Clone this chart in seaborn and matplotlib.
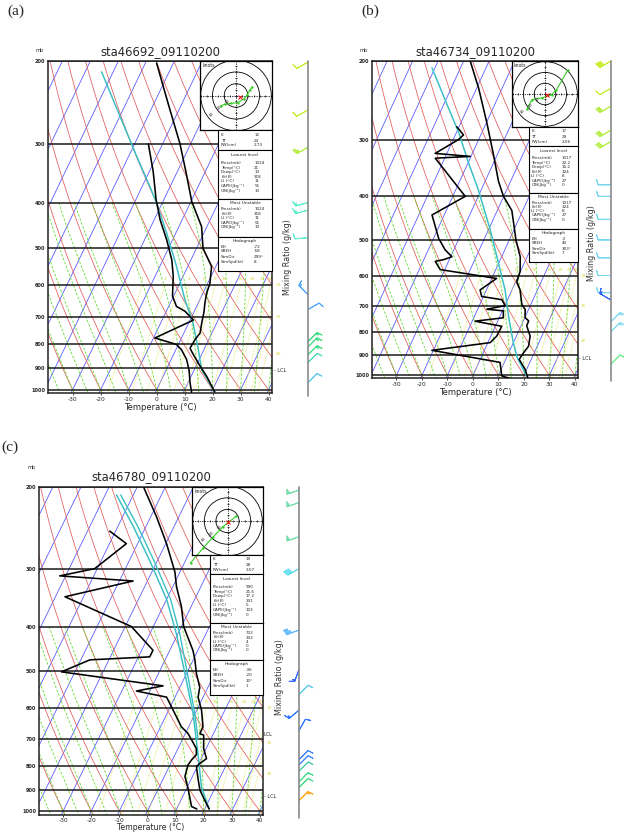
import numpy as np
import matplotlib
matplotlib.use("Agg")
import matplotlib.pyplot as plt
import seaborn as sns
from matplotlib.patches import Circle
from matplotlib.ticker import FixedLocator, FixedFormatter, NullLocator
from matplotlib.transforms import blended_transform_factory

# ------------------------------------------------------------------ data
# panel (a)
A_STATION = "sta46692_09110200"
A_TEMP_P = [202, 246, 300, 346, 398, 450, 500, 547, 594, 623, 652, 684, 719, 758, 783, 816, 842, 891, 938, 1012]
A_TEMP_T = [-56.0, -45.0, -33.8, -26.6, -19.7, -11.9, -7.7, -1.5, 0.8, 1.3, 2.3, 3.6, 4.6, 5.8, 5.1, 4.8, 7.1, 11.5, 15.7, 21.2]
A_DEWP_P = [300, 343, 394, 435, 480, 530, 574, 632, 665, 681, 711, 776, 801, 822, 862, 908, 968, 1012]
A_DEWP_T = [-45.1, -38.7, -32.8, -27.9, -22.1, -16.8, -13.5, -10.4, -7.2, -3.3, 1.2, -9.5, -0.7, 2.0, 5.5, 8.2, 10.8, 12.9]
A_PARCEL_P = [211, 262, 319, 370, 401, 465, 547, 644, 719, 823, 906, 1012]
A_PARCEL_T = [-74.1, -60.0, -47.1, -37.2, -32.0, -23.2, -14.0, -5.3, 1.4, 8.1, 12.6, 21.2]
A_HODO_U = [13.9, 11.9, 9.7, 6.9, 1.4, -4.2, -9.7, -13.1]
A_HODO_V = [7.2, 5.0, 0.8, -2.8, -6.1, -6.7, -7.5, -8.9]
A_STORM_UV = [3.6, -1.1]
A_BARB_P = [201, 254, 305, 400, 415, 475, 628, 675, 790, 811, 843, 875, 966]
A_BARB_SPD = [10, 10, 25, 15, 15, 10, 15, 10, 15, 15, 15, 10, 10]
A_BARB_DIR = [240, 240, 240, 255, 255, 265, 315, 60, 45, 45, 45, 45, 45]
A_BARB_COL = ["#c8ee30", "#c8ee30", "#b8ee48", "#60eed0", "#60eed0", "#60eed0",
              "#55aaff", "#55aaff", "#44dd88", "#44dd88", "#44dd88", "#55ddbb", "#66ccee"]
A_INDEX_VALUES = ["12", "24", "2.73"]
A_LOWEST_VALUES = ["1024", "21", "13", "318", "11", "51", "13"]
A_MU_VALUES = ["1024", "318", "11", "51", "13"]
A_HODO_VALUES = ["-72", "-58", "299°", "8"]

# panel (b)
B_STATION = "sta46734_09110200"
B_TEMP_P = [200, 230, 275, 325, 370, 400, 430, 466, 500, 545, 588, 619, 646, 696, 714, 744, 757, 776, 818, 862, 891, 922, 970, 1017]
B_TEMP_T = [-57.4, -49.2, -39.7, -31.2, -24.8, -20.1, -14.3, -10.6, -7.4, -2.7, -0.1, 0.4, 3.2, 6.5, 8.7, 10.1, 12.1, 12.2, 15.4, 16.6, 15.8, 15.3, 19.4, 22.2]
B_DEWP_P = [280, 292, 299, 321, 326, 329, 400, 440, 496, 526, 545, 553, 558, 582, 609, 646, 668, 679, 700, 713, 719, 745, 758, 778, 818, 846, 880, 936, 1003, 1017]
B_DEWP_T = [-50.9, -46.8, -47.9, -54.6, -40.3, -53.7, -35.1, -44.8, -38.0, -33.4, -29.5, -32.2, -35.2, -31.8, -8.1, -12.5, -10.7, -2.2, 0.1, -6.4, 0.4, 1.6, -8.9, 2.5, 2.3, 0.9, -20.6, 8.3, 11.4, 15.2]
B_PARCEL_P = [207, 244, 289, 337, 387, 474, 562, 646, 738, 850, 915, 1017]
B_PARCEL_T = [-71.2, -60.3, -49.0, -39.8, -31.1, -19.4, -10.2, -2.7, 3.3, 10.2, 14.3, 22.2]
B_HODO_U = [21.2, 10.6, 6.1, -3.0, -12.1, -16.7]
B_HODO_V = [22.1, 3.9, -0.6, -3.6, -5.2, -14.2]
B_STORM_UV = [1.6, -0.6]
B_BARB_P = [200, 230, 252, 285, 302, 377, 400, 450, 500, 548, 600, 655, 680, 760, 800, 944]
B_BARB_SPD = [40, 10, 30, 30, 30, 10, 10, 10, 10, 10, 10, 10, 15, 15, 15, 10]
B_BARB_DIR = [240, 240, 240, 240, 240, 270, 270, 270, 270, 270, 270, 270, 300, 45, 45, 45]
B_BARB_COL = ["#c8ee30", "#c8ee30", "#b8ee48", "#b8ee48", "#b8ee48", "#77d8f0", "#77d8f0", "#77d8f0",
              "#77d8f0", "#77d8f0", "#77d8f0", "#77d8f0", "#3366ff", "#88ddee", "#88ddee", "#66ee88"]
B_INDEX_VALUES = ["17", "29", "2.06"]
B_LOWEST_VALUES = ["1017", "22.2", "15.2", "324", "8", "27", "0"]
B_MU_VALUES = ["1017", "324", "8", "27", "0"]
B_HODO_VALUES = ["-3", "40", "303°", "7"]

# panel (c)
C_STATION = "sta46780_09110200"
C_TEMP_P = [201, 232, 265, 305, 328, 362, 400, 450, 470, 505, 541, 568, 606, 658, 681, 686, 733, 771, 790, 802, 856, 901, 948, 990]
C_TEMP_T = [-57.4, -47.9, -39.7, -31.8, -28.7, -23.5, -19.2, -11.8, -9.6, -6.5, -2.9, -1.8, 1.7, 5.1, 5.2, 6.8, 9.1, 11.9, 10.3, 9.7, 12.6, 15.0, 18.5, 21.6]
C_DEWP_P = [249, 265, 300, 311, 319, 345, 400, 450, 465, 472, 501, 537, 551, 568, 606, 658, 680, 703, 733, 756, 776, 795, 842, 894, 978, 990]
C_DEWP_T = [-62.1, -54.0, -60.9, -72.1, -45.1, -66.6, -37.8, -26.0, -26.0, -46.8, -54.8, -16.2, -24.8, -13.0, -8.4, -2.6, 0.9, 3.4, 6.5, 7.6, 6.8, 6.4, 7.3, 10.5, 14.9, 17.2]
C_PARCEL_P = [208, 243, 288, 350, 414, 505, 615, 756, 889, 990]
C_PARCEL_T = [-66.0, -54.6, -42.8, -29.9, -20.6, -10.6, -0.8, 8.2, 15.1, 21.6]
C_MU_PARCEL_P = [700, 615, 505, 414, 350, 288, 243, 208]
C_MU_PARCEL_T = [5.5, -0.2, -9.7, -19.4, -28.5, -41.3, -53.0, -64.5]
C_HODO_U = [7.6, -4.2, -12.7, -21.1, -31.8]
C_HODO_V = [4.2, -5.1, -14.1, -23.4, -36.1]
C_STORM_UV = [0.0, -0.5]
C_BARB_P = [203, 216, 256, 300, 407, 495, 560, 606, 670, 775, 795, 820, 865, 890, 950]
C_BARB_SPD = [50, 50, 50, 40, 35, 15, 10, 15, 10, 10, 10, 10, 10, 10, 15]
C_BARB_DIR = [250, 250, 250, 240, 250, 200, 45, 230, 30, 45, 45, 45, 45, 45, 45]
C_BARB_COL = ["#77ddaa", "#77ddaa", "#77ddaa", "#66ddee", "#66bbff", "#3366ff", "#66ccee", "#3377ff",
              "#3377ff", "#4488ff", "#4488ff", "#44ccaa", "#44dd88", "#44dd88", "#ffaa22"]
C_INDEX_VALUES = ["19", "28", "3.07"]
C_LOWEST_VALUES = ["990", "21.6", "17.2", "331", "5", "103", "0"]
C_MU_VALUES = ["732", "332", "4", "0", "0"]
C_HODO_VALUES = ["-36", "-20", "10°", "1"]

INDEX_LABELS = ["K", "TT", "PW(cm)"]
LOWEST_LABELS = ["Press(mb)", "Temp(°C)", "Dewp(°C)", r"$\theta_e$(K)", "LI (°C)", "CAPE(Jkg⁻¹)", "CIN(Jkg⁻¹)"]
MU_LABELS = ["Press(mb)", r"$\theta_e$(K)", "LI (°C)", "CAPE(Jkg⁻¹)", "CIN(Jkg⁻¹)"]
HODO_LABELS = ["EH", "SREH", "StmDir", "StmSpd(kt)"]

TEMP_TICKS = [-30, -20, -10, 0, 10, 20, 30, 40]
PRES_TICKS = [200, 300, 400, 500, 600, 700, 800, 900, 1000]
MIXR_VALUES = [1, 2, 3, 4, 6, 8, 10, 15, 20, 25, 30, 35, 40]
MIXR_TOP_LABELS = ["1", "2", "3", "4", "6", "8", "10", "15", "20", "25", "30"]
HODO_RINGS = [10, 20, 30]

# ------------------------------------------------------------------ setup
W, H = 624, 834
SKEW = 35.0

sns.set_theme(style="white")
plt.rcParams["font.family"] = ["DejaVu Sans"]
plt.rcParams["axes.unicode_minus"] = False
plt.rcParams["mathtext.fontset"] = "dejavusans"

fig = plt.figure(figsize=(W / 100, H / 100), dpi=100)
fig.patch.set_facecolor("white")


def rect(x0, y0, x1, y1):
    return [x0 / W, 1 - y1 / H, (x1 - x0) / W, (y1 - y0) / H]


def skx(t, p):
    return np.asarray(t, float) + SKEW * np.log(1000.0 / np.asarray(p, float))


def moist_adiabat(thw, p_top=400.0, p_bot=1060.0, n=120):
    Rd, Cp, Lv, eps = 287.04, 1005.7, 2.501e6, 0.622

    def rate(T, p):
        tc = T - 273.15
        es = 6.112 * np.exp(17.67 * tc / (tc + 243.5))
        rs = eps * es / (p - es)
        return (Rd * T + Lv * rs) / (Cp + Lv ** 2 * rs * eps / (Rd * T ** 2))

    segs = []
    for target in (p_top, p_bot):
        lnp = np.linspace(np.log(1000.0), np.log(target), n)
        T = thw + 273.15
        ps, ts = [1000.0], [T]
        for i in range(1, n):
            h = lnp[i] - lnp[i - 1]
            k1 = rate(T, np.exp(lnp[i - 1]))
            k2 = rate(T + h * k1, np.exp(lnp[i]))
            T = T + 0.5 * h * (k1 + k2)
            ps.append(np.exp(lnp[i]))
            ts.append(T)
        segs.append((np.array(ps), np.array(ts) - 273.15))
    up, dn = segs
    p = np.concatenate([up[0][::-1], dn[0][1:]])
    t = np.concatenate([up[1][::-1], dn[1][1:]])
    return p, t


def mixr_td(w, p):
    e = w * p / (622.0 + w)
    a = np.log(e / 6.112)
    return 243.5 * a / (17.67 - a)


def text_box(px, header, header_off, labels, values, offs, ref_h):
    x0, y0, x1, y1 = px
    bx = fig.add_axes(rect(x0, y0, x1, y1))
    bx.set_facecolor("white")
    bx.set_xlim(0, 1)
    h = y1 - y0
    bx.set_ylim(h, 0)
    bx.set_xticks([])
    bx.set_yticks([])
    for s in bx.spines.values():
        s.set_color("black")
        s.set_linewidth(0.8)
    k = h / ref_h
    if header:
        bx.text(0.5, header_off * k, header, ha="center", va="center", fontsize=3.2)
    for lab, val, o in zip(labels, values, offs):
        bx.text(0.05, o * k, lab, ha="left", va="center", fontsize=3.0)
        bx.text(0.67, o * k, val, ha="left", va="center", fontsize=3.0)


def draw_panel(g, d):
    x0, y0, x1, y1 = g["skew"]
    ax = fig.add_axes(rect(x0, y0, x1, y1))
    ax.set_facecolor("white")
    ax.set_yscale("log")
    pbot = g["pbot"]
    xl = g["xlim"]

    pf = np.geomspace(190, 1070, 100)
    for t in range(-140, 50, 10):
        ax.plot(skx(t, pf), pf, color="#4f4fff", lw=0.55, zorder=1)
    for th in range(-40, 220, 10):
        tt = (th + 273.15) * (pf / 1000.0) ** 0.2857 - 273.15
        ax.plot(skx(tt, pf), pf, color="#e25a5a", lw=0.55, zorder=1)
    for thw in range(-45, 60, 5):
        mp, mt = moist_adiabat(float(thw))
        ax.plot(skx(mt, mp), mp, color="#5fdc2e", lw=0.6, ls=(0, (3, 2)), zorder=1)
    pm = np.geomspace(600, 1070, 40)
    for w in MIXR_VALUES:
        ax.plot(skx(mixr_td(w, pm), pm), pm, color="#e2e24a", lw=0.65, ls=(0, (1, 1.5)), zorder=1)
    for w, lab in zip(MIXR_VALUES, MIXR_TOP_LABELS):
        xx = skx(mixr_td(w, 600.0), 600.0)
        ax.text(xx, 588, lab, color="#d8d840", fontsize=3.2, ha="center", va="bottom", zorder=2)
    tr = blended_transform_factory(ax.transAxes, ax.transData)
    for pp, lab in g["mr_right"]:
        ax.text(1.015, pp, lab, color="#d8d840", fontsize=3.2, ha="left", va="center",
                transform=tr, clip_on=False)

    for pp in PRES_TICKS:
        ax.axhline(pp, color="#1a1a1a", lw=1.1, zorder=3)

    sns.lineplot(x=skx(d["parcel_t"], d["parcel_p"]), y=d["parcel_p"], sort=False, estimator=None,
                 color="#3cc0c4", lw=1.1, ax=ax, zorder=4)
    if "mu_parcel_t" in d:
        sns.lineplot(x=skx(d["mu_parcel_t"], d["mu_parcel_p"]), y=d["mu_parcel_p"], sort=False,
                     estimator=None, color="#3cc0c4", lw=1.0, ax=ax, zorder=4)
    sns.lineplot(x=skx(d["dewp_t"], d["dewp_p"]), y=d["dewp_p"], sort=False, estimator=None,
                 color="black", lw=1.15, ax=ax, zorder=5)
    sns.lineplot(x=skx(d["temp_t"], d["temp_p"]), y=d["temp_p"], sort=False, estimator=None,
                 color="black", lw=1.15, ax=ax, zorder=5)

    ax.set_xlim(*xl)
    ax.set_ylim(pbot, 200)
    ax.yaxis.set_major_locator(FixedLocator(PRES_TICKS))
    ax.yaxis.set_major_formatter(FixedFormatter([str(p) for p in PRES_TICKS]))
    ax.yaxis.set_minor_locator(NullLocator())
    ax.set_xticks(TEMP_TICKS)
    ax.set_xticklabels([str(t) for t in TEMP_TICKS])
    ax.tick_params(axis="x", labelsize=4.3, length=1.5, width=0.6, pad=g["xpad"], direction="out",
                   bottom=True)
    ax.tick_params(axis="y", labelsize=3.6, length=0, pad=2, left=False)
    for lab in ax.get_yticklabels():
        lab.set_fontweight("bold")
    ax.set_xlabel("")
    ax.set_ylabel("")
    for s in ax.spines.values():
        s.set_color("#222222")
        s.set_linewidth(1.1)

    cx = (x0 + x1) / 2
    fig.text(cx / W, 1 - g["title_y"] / H, d["station"], ha="center", va="center", fontsize=8.4)
    fig.text(cx / W, 1 - g["tlabel_y"] / H, "Temperature (°C)", ha="center", va="center",
             fontsize=g["tlabel_fs"])
    fig.text(g["mb_xy"][0] / W, 1 - g["mb_xy"][1] / H, "mb", ha="left", va="center", fontsize=3.5)
    fig.text(g["letter_xy"][0] / W, 1 - g["letter_xy"][1] / H, g["letter"], ha="left", va="center",
             fontsize=11, family=["Liberation Serif", "DejaVu Serif"])
    for lx, ly, s in g["lcl"]:
        fig.text(lx / W, 1 - ly / H, s, ha="left", va="center", fontsize=3.6)
    fig.text(g["mr_xy"][0] / W, 1 - g["mr_xy"][1] / H, "Mixing Ratio (g/kg)", rotation=90,
             ha="center", va="center", fontsize=5.8, color="#333333")

    # wind barbs column
    wx0, wy0, wx1, wy1 = g["wind"]
    wax = fig.add_axes(rect(wx0, wy0, wx1, wy1))
    wax.set_yscale("log")
    wax.set_xlim(-7, 1)
    wax.set_ylim(pbot, 200)
    wax.axvline(0, color="#8a8a8a", lw=1.2, ymin=-0.01, ymax=1.0, clip_on=False)
    spd = np.asarray(d["barb_spd"], float)
    dr = np.deg2rad(np.asarray(d["barb_dir"], float))
    u = -spd * np.sin(dr)
    v = -spd * np.cos(dr)
    wax.barbs(np.zeros(len(spd)), d["barb_p"], u, v, barbcolor=d["barb_col"], flagcolor=d["barb_col"],
              length=4.3, linewidth=0.7, clip_on=False)
    wax.axis("off")

    # hodograph inset
    hx0, hy0, hx1, hy1 = g["hodo"]
    hax = fig.add_axes(rect(hx0, hy0, hx1, hy1))
    hax.set_facecolor("white")
    half = 30.6
    vhalf = half * (hy1 - hy0) / (hx1 - hx0)
    hax.set_xlim(-half, half)
    hax.set_ylim(-vhalf, vhalf)
    for r in HODO_RINGS:
        hax.add_patch(Circle((0, 0), r, fill=False, ec="black", lw=0.6))
    hax.plot([-half, half], [0, 0], color="black", lw=0.5, ls=(0, (2, 1.5)))
    hax.plot([0, 0], [-vhalf, vhalf], color="black", lw=0.5, ls=(0, (2, 1.5)))
    tk = np.arange(-30, 31, 5)
    hax.plot(tk, np.zeros_like(tk), ls="none", marker="|", ms=1.6, mew=0.5, color="black")
    hax.plot(np.zeros_like(tk), tk, ls="none", marker="_", ms=1.6, mew=0.5, color="black")
    ang = np.deg2rad(218)
    for r in HODO_RINGS:
        hax.text(0.86 * r * np.cos(ang), 0.86 * r * np.sin(ang), str(r), fontsize=2.8, rotation=45,
                 ha="center", va="center")
    hax.plot(d["hodo_u"], d["hodo_v"], color="#33cc22", lw=0.8, marker=".", ms=1.4, clip_on=False)
    hax.plot([d["storm"][0]], [d["storm"][1]], color="red", marker="x", ms=2.2, mew=0.7)
    hax.text(0.03, 0.97, "knots", transform=hax.transAxes, fontsize=3.3, ha="left", va="top")
    hax.set_xticks([])
    hax.set_yticks([])
    for s in hax.spines.values():
        s.set_color("black")
        s.set_linewidth(0.9)

    # index boxes
    b = g["boxes"]
    text_box(b[0], None, 0, INDEX_LABELS, d["index"], [4.5, 11.0, 15.5], 20)
    text_box(b[1], "Lowest level", 5.5, LOWEST_LABELS, d["lowest"],
             [13 + 4.6 * i for i in range(7)], 49)
    text_box(b[2], "Most Unstable", 4.3, MU_LABELS, d["mu"], [10.5 + 4.4 * i for i in range(5)], 38)
    text_box(b[3], "Hodograph", 4.0, HODO_LABELS, d["hodo_vals"], [10.0, 14.2, 20.5, 25.0], 34)


GEOM = {
    "a": dict(letter="(a)", letter_xy=(7, 11), title_y=52, mb_xy=(35, 50), skew=(48, 61, 272, 393),
              pbot=1016, xlim=(-38.8, 41.2), tlabel_y=407, tlabel_fs=6.0, xpad=1.5,
              hodo=(200, 61, 272, 130),
              boxes=[(218, 130, 272, 150), (218, 150, 272, 199), (218, 199, 272, 237), (218, 237, 272, 271)],
              wind=(280, 61, 312, 393), mr_xy=(288, 257), lcl=[(274, 370, "- LCL")],
              mr_right=[(600, "30"), (700, "35"), (838, "40")]),
    "b": dict(letter="(b)", letter_xy=(361, 11), title_y=52, mb_xy=(360, 50), skew=(372, 61, 578, 378),
              pbot=1014, xlim=(-39.6, 41.2), tlabel_y=393, tlabel_fs=6.0, xpad=1.2,
              hodo=(512, 61, 578, 127),
              boxes=[(529, 127, 578, 146), (529, 146, 578, 193), (529, 193, 578, 229), (529, 229, 578, 262)],
              wind=(583, 61, 615, 378), mr_xy=(592, 243), lcl=[(579, 358, "- LCL")],
              mr_right=[(600, "30"), (700, "35"), (840, "40")]),
    "c": dict(letter="(c)", letter_xy=(1, 447), title_y=477, mb_xy=(28, 468), skew=(39, 487, 263, 815),
              pbot=1020, xlim=(-38.6, 41.1), tlabel_y=828, tlabel_fs=5.6, xpad=0.3,
              hodo=(192, 487, 263, 555),
              boxes=[(210, 555, 263, 574), (210, 574, 263, 623), (210, 623, 263, 660), (210, 660, 263, 695)],
              wind=(271, 487, 303, 815), mr_xy=(279, 677), lcl=[(264, 735, "LCL"), (264, 796, "- LCL")],
              mr_right=[(600, "30"), (714, "35"), (830, "40")]),
}

DATA = {
    "a": dict(station=A_STATION, temp_p=A_TEMP_P, temp_t=A_TEMP_T, dewp_p=A_DEWP_P, dewp_t=A_DEWP_T,
              parcel_p=A_PARCEL_P, parcel_t=A_PARCEL_T, hodo_u=A_HODO_U, hodo_v=A_HODO_V, storm=A_STORM_UV,
              barb_p=A_BARB_P, barb_spd=A_BARB_SPD, barb_dir=A_BARB_DIR, barb_col=A_BARB_COL,
              index=A_INDEX_VALUES, lowest=A_LOWEST_VALUES, mu=A_MU_VALUES, hodo_vals=A_HODO_VALUES),
    "b": dict(station=B_STATION, temp_p=B_TEMP_P, temp_t=B_TEMP_T, dewp_p=B_DEWP_P, dewp_t=B_DEWP_T,
              parcel_p=B_PARCEL_P, parcel_t=B_PARCEL_T, hodo_u=B_HODO_U, hodo_v=B_HODO_V, storm=B_STORM_UV,
              barb_p=B_BARB_P, barb_spd=B_BARB_SPD, barb_dir=B_BARB_DIR, barb_col=B_BARB_COL,
              index=B_INDEX_VALUES, lowest=B_LOWEST_VALUES, mu=B_MU_VALUES, hodo_vals=B_HODO_VALUES),
    "c": dict(station=C_STATION, temp_p=C_TEMP_P, temp_t=C_TEMP_T, dewp_p=C_DEWP_P, dewp_t=C_DEWP_T,
              parcel_p=C_PARCEL_P, parcel_t=C_PARCEL_T, mu_parcel_p=C_MU_PARCEL_P, mu_parcel_t=C_MU_PARCEL_T,
              hodo_u=C_HODO_U, hodo_v=C_HODO_V, storm=C_STORM_UV,
              barb_p=C_BARB_P, barb_spd=C_BARB_SPD, barb_dir=C_BARB_DIR, barb_col=C_BARB_COL,
              index=C_INDEX_VALUES, lowest=C_LOWEST_VALUES, mu=C_MU_VALUES, hodo_vals=C_HODO_VALUES),
}

for key in ("a", "b", "c"):
    draw_panel(GEOM[key], DATA[key])

fig.savefig("out.png", dpi=100, facecolor="white")
